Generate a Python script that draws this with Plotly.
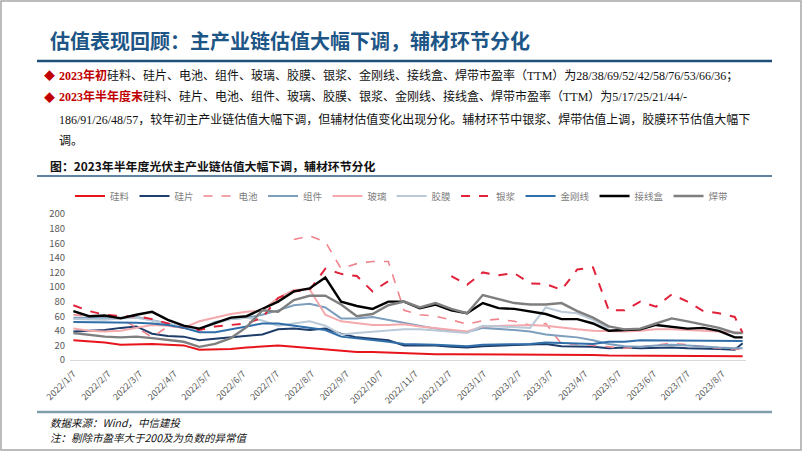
import pandas as pd
import plotly.graph_objects as go

# ---------------- data ----------------
dates = list(pd.date_range("2022-01-07", periods=43, freq="14D").strftime("%Y-%m-%d")) + ["2023-08-25"]

series_names = ["硅料", "硅片", "电池", "组件", "玻璃", "胶膜", "银浆", "金刚线", "接线盒", "焊带"]
N = None

silicon = [27, 26, 24, 21, 22, 22, 21, 20, 14, 14, 15, 17, 18, 20, 18, 16, 14, 12, 11, 11, 10, 9,
           8, 8, 8, 8, 8, 8, 8, 8, 7, 7, 7, 7, 6, 6, 6, 6, 5, 5, 5, 5, 5, 5]
wafer = [39, 40, 41, 44, 46, 36, 33, 32, 27, 29, 31, 33, 35, 42, 43, 41, 43, 36, 31, 29, 27, 20,
         20, 20, 18, 17, 19, 20, 20, 21, 22, 19, 19, 18, 16, 17, 16, 17, 17, 16, 16, 15, 14, 23]
cell = [62, 60, 57, 56, 45, 31, 46, 45, 42, N, N, N, N, N, 165, 170, 162, 125, 132, 135, 135, 68,
        62, 60, 55, 49, 54, 56, 53, 48, 50, 22, 22, 20, 17, 16, 18, 21, 23, 21, 18, 16, 15, 14]
module = [58, 58, 57, 58, 59, 55, 50, 44, 42, 52, 56, 58, 62, 68, 75, 77, 72, 57, 57, 59, 55, 51,
          46, 43, 40, 38, 44, 43, 41, 39, 35, 33, 31, 27, 22, 19, 18, 20, 21, 20, 18, 17, 16, 16]
glass = [43, 40, 39, 40, 44, 48, 47, 44, 53, 58, 63, 66, 68, 85, 96, 97, 62, 53, 50, 48, 48, 49,
         46, 44, 41, 39, 46, 47, 47, 48, 47, 44, 42, 40, 39, 39, 40, 42, 42, 41, 40, 40, 38, 37]
film = [56, 56, 55, 57, 58, 54, 49, 45, 42, 50, 56, 58, 54, 47, 50, 53, 47, 35, 37, 39, 41, 42,
        42, 40, 38, 37, 47, 46, 45, 44, 72, 66, 64, 55, 43, N, N, N, N, N, N, N, N, N]
silver = [75, 67, 62, 60, 60, 56, 50, 44, 41, 46, 48, 50, 58, 85, 94, 96, 125, 118, 115, 94, 108, N,
          N, N, 115, 103, 120, 116, 119, 105, 104, 96, 124, 127, 68, 68, 80, 73, 90, 80, 67, 64, 59, 37]
wire = [52, 52, 51, 51, 51, 50, 48, 44, 38, 38, 42, 47, 50, 50, 47, 43, 41, 32, 30, 27, 25, 22,
        22, 21, 20, 19, 21, 21, 22, 22, 24, 23, 23, 22, 25, 25, 27, 27, 27, 26, 27, 27, 26, 26]
jbox = [67, 60, 61, 57, 62, 66, 55, 47, 43, 51, 58, 60, 70, 80, 94, 98, 113, 80, 74, 70, 80, 80,
        71, 76, 68, 64, 78, 71, 70, 67, 63, 56, 56, 50, 40, 41, 42, 48, 46, 43, 44, 40, 31, 31]
ribbon = [37, 34, 32, 31, 32, 30, 28, 25, 18, 22, 30, 45, 68, 66, 82, 88, 88, 76, 60, 63, 75, 80,
          72, 78, 70, 64, 89, 83, 78, 76, 76, 78, 67, 58, 46, 42, 43, 50, 57, 53, 49, 44, 37, 37]

series_values = [silicon, wafer, cell, module, glass, film, silver, wire, jbox, ribbon]

tick_dates = ["2022-01-07", "2022-02-07", "2022-03-07", "2022-04-07", "2022-05-07", "2022-06-07",
              "2022-07-07", "2022-08-07", "2022-09-07", "2022-10-07", "2022-11-07", "2022-12-07",
              "2023-01-07", "2023-02-07", "2023-03-07", "2023-04-07", "2023-05-07", "2023-06-07",
              "2023-07-07", "2023-08-07"]
tick_labels = ["2022/1/7", "2022/2/7", "2022/3/7", "2022/4/7", "2022/5/7", "2022/6/7", "2022/7/7",
               "2022/8/7", "2022/9/7", "2022/10/7", "2022/11/7", "2022/12/7", "2023/1/7", "2023/2/7",
               "2023/3/7", "2023/4/7", "2023/5/7", "2023/6/7", "2023/7/7", "2023/8/7"]

# ---------------- styles ----------------
styles = {
    "硅料": dict(color="#e8141c", width=2, dash="solid"),
    "硅片": dict(color="#1f3d6b", width=2, dash="solid"),
    "电池": dict(color="#f0848c", width=1.6, dash="dash"),
    "组件": dict(color="#7d9fbd", width=2, dash="solid"),
    "玻璃": dict(color="#f4a9ad", width=2, dash="solid"),
    "胶膜": dict(color="#b9c9d8", width=2, dash="solid"),
    "银浆": dict(color="#e2223b", width=2, dash="dash"),
    "金刚线": dict(color="#2f6ea8", width=2, dash="solid"),
    "接线盒": dict(color="#000000", width=2.4, dash="solid"),
    "焊带": dict(color="#7f7f7f", width=2.4, dash="solid"),
}

W, H = 802, 451
ML, MR, MT, MB = 70, 56, 214, 91
PW, PH = W - ML - MR, H - MT - MB


def px(x):
    return (x - ML) / PW


def py(y):
    return (H - MB - y) / PH


CJK = "Noto Sans CJK SC"
BODY = "Liberation Serif, Noto Sans CJK SC"
BODY_SIZE = 12

fig = go.Figure()
for name, vals in zip(series_names, series_values):
    s = styles[name]
    fig.add_trace(go.Scatter(
        x=dates, y=vals, name=name, mode="lines",
        line=dict(color=s["color"], width=s["width"], dash=s["dash"]),
        connectgaps=False,
    ))

annotations = [
    dict(x=px(48), y=py(40), text="<b>估值表现回顾：主产业链估值大幅下调，辅材环节分化</b>",
         font=dict(family=CJK, size=20, color="#1d5586")),
    dict(x=px(42), y=py(75), text="◆", font=dict(family=CJK, size=11, color="#c00000")),
    dict(x=px(57), y=py(75),
         text="<span style='color:#c00000'><b>2023年初</b></span>硅料、硅片、电池、组件、玻璃、胶膜、银浆、金刚线、接线盒、焊带市盈率（TTM）为28/38/69/52/42/58/76/53/66/36；",
         font=dict(family=BODY, size=BODY_SIZE, color="#111111")),
    dict(x=px(42), y=py(97), text="◆", font=dict(family=CJK, size=11, color="#c00000")),
    dict(x=px(57), y=py(97),
         text="<span style='color:#c00000'><b>2023年半年度末</b></span>硅料、硅片、电池、组件、玻璃、胶膜、银浆、金刚线、接线盒、焊带市盈率（TTM）为5/17/25/21/44/-",
         font=dict(family=BODY, size=BODY_SIZE, color="#111111")),
    dict(x=px(57), y=py(119),
         text="186/91/26/48/57，较年初主产业链估值大幅下调，但辅材估值变化出现分化。辅材环节中银浆、焊带估值上调，胶膜环节估值大幅下",
         font=dict(family=BODY, size=BODY_SIZE, color="#111111")),
    dict(x=px(57), y=py(141), text="调。", font=dict(family=BODY, size=BODY_SIZE, color="#111111")),
    dict(x=px(48), y=py(165), text="<b>图：2023年半年度光伏主产业链估值大幅下调，辅材环节分化</b>",
         font=dict(family=CJK, size=11.9, color="#111111")),
    dict(x=px(48), y=py(422), text="<i>数据来源：Wind，中信建投</i>",
         font=dict(family=CJK, size=10.5, color="#111111")),
    dict(x=px(48), y=py(437), text="<i>注：剔除市盈率大于200及为负数的异常值</i>",
         font=dict(family=CJK, size=10.5, color="#111111")),
]
for a in annotations:
    a.update(xref="paper", yref="paper", xanchor="left", yanchor="middle", showarrow=False)

shapes = [
    dict(type="rect", x0=px(1), x1=px(801), y0=py(450), y1=py(1), line=dict(color="#a6a6a6", width=1.5)),
    dict(type="line", x0=px(37), x1=px(772), y0=py(61), y1=py(61), line=dict(color="#1f4e79", width=2.5)),
    dict(type="line", x0=px(37), x1=px(772), y0=py(176), y1=py(176), line=dict(color="#2a5a85", width=1.5)),
    dict(type="line", x0=px(37), x1=px(772), y0=py(412), y1=py(412), line=dict(color="#7f9fad", width=2.5)),
]
for s in shapes:
    s.update(xref="paper", yref="paper")

fig.update_layout(
    width=W, height=H,
    margin=dict(l=ML, r=MR, t=MT, b=MB, pad=0),
    paper_bgcolor="white", plot_bgcolor="white",
    font=dict(family=CJK, color="#595959"),
    showlegend=True,
    legend=dict(orientation="h", x=px(402), xanchor="center", y=py(196), yanchor="middle",
                font=dict(family=CJK, size=9.5, color="#808080"),
                itemwidth=30,
                bgcolor="rgba(0,0,0,0)", tracegroupgap=0),
    xaxis=dict(type="date", range=["2022-01-04", "2023-08-28"],
               tickmode="array", tickvals=tick_dates, ticktext=tick_labels, tickangle=-45,
               tickfont=dict(family=CJK, size=9, color="#595959"),
               showgrid=False, zeroline=False, showline=True, linecolor="#d9d9d9", linewidth=1,
               ticks="", ticklabelstandoff=4),
    yaxis=dict(range=[0, 200], tickmode="linear", tick0=0, dtick=20,
               tickfont=dict(family=CJK, size=9.5, color="#595959"),
               showgrid=False, zeroline=False, showline=False, ticks="", ticklabelstandoff=4),
    annotations=annotations,
    shapes=shapes,
)

fig.write_html("out.html")
